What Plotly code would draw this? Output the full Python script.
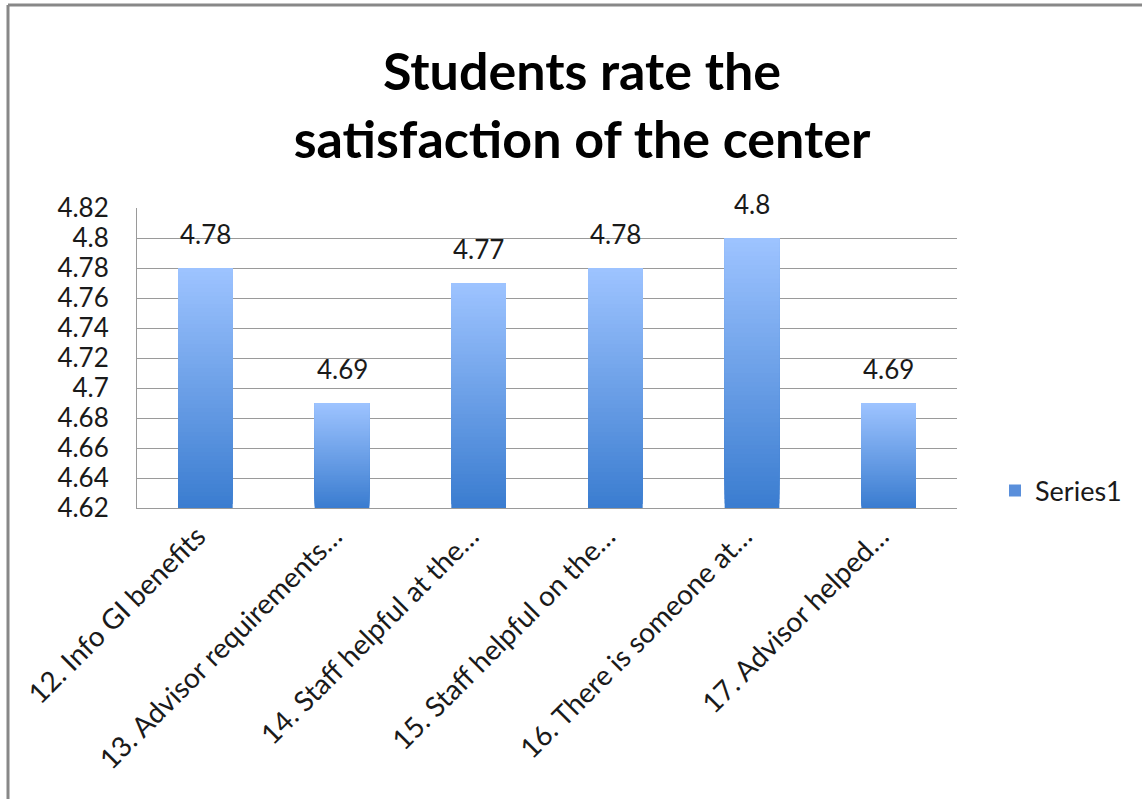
import plotly.graph_objects as go

categories = [
    "12. Info GI benefits",
    "13. Advisor requirements…",
    "14. Staff helpful at the…",
    "15. Staff helpful on the…",
    "16. There is someone at…",
    "17. Advisor helped…",
]
values = [4.78, 4.69, 4.77, 4.78, 4.80, 4.69]
value_labels = ["4.78", "4.69", "4.77", "4.78", "4.8", "4.69"]
y_ticks = [4.62, 4.64, 4.66, 4.68, 4.70, 4.72, 4.74, 4.76, 4.78, 4.80, 4.82]
y_tick_labels = ["4.62", "4.64", "4.66", "4.68", "4.7", "4.72", "4.74", "4.76", "4.78", "4.8", "4.82"]
series_name = "Series1"

y_min, y_max = 4.62, 4.82
FONT = "Lato"

# gradient colours (bottom -> top)
c_bottom = (59, 125, 208)
c_top = (157, 195, 255)
N = 60

fig = go.Figure()
for k in range(N):
    t = k / (N - 1)
    col = tuple(round(c_bottom[i] + (c_top[i] - c_bottom[i]) * t) for i in range(3))
    base = [y_min + (v - y_min) * k / N for v in values]
    seg = [v - b for v, b in zip(values, base)]
    fig.add_trace(go.Bar(
        x=categories, y=seg, base=base,
        marker=dict(color="rgb(%d,%d,%d)" % col, line=dict(width=0)),
        showlegend=False, hoverinfo="skip",
    ))

# legend entry
fig.add_trace(go.Bar(
    x=[categories[0]], y=[0], base=[y_min], name=series_name,
    marker=dict(color="rgb(90,143,219)", line=dict(width=0)),
    showlegend=True, hoverinfo="skip",
))

for c, v, lab in zip(categories, values, value_labels):
    fig.add_annotation(x=c, y=v, text=lab, showarrow=False, yanchor="bottom",
                       yshift=16, font=dict(family=FONT, size=26, color="#1a1a1a"))

fig.update_layout(
    barmode="overlay",
    bargap=0.6,
    width=1142, height=799,
    margin=dict(l=137, r=185, t=208, b=291),
    paper_bgcolor="white", plot_bgcolor="white",
    title=dict(text="<b>Students rate the<br>satisfaction of the center</b>",
               x=582 / 1142, xanchor="center", xref="container",
               y=1 - 90 / 799, yanchor="middle", yref="container",
               font=dict(family=FONT, size=52, color="black")),
    legend=dict(x=995 / 1142, xref="container", y=1 - 491 / 799, yref="container",
                yanchor="middle", xanchor="left",
                font=dict(family=FONT, size=27, color="#1a1a1a"),
                itemwidth=30),
    font=dict(family=FONT),
)
fig.update_xaxes(
    type="category",
    tickangle=-45,
    tickfont=dict(family=FONT, size=28, color="#1a1a1a"),
    showline=True, linecolor="#9a9a9a", linewidth=1,
    showgrid=False, ticks="", ticklabelshift=-8,
)
fig.update_yaxes(
    range=[y_min, y_max],
    tickvals=y_ticks, ticktext=y_tick_labels,
    tickfont=dict(family=FONT, size=26, color="#1a1a1a"),
    showline=True, linecolor="#9a9a9a", linewidth=1,
    showgrid=True, gridcolor="#9a9a9a", gridwidth=1,
    ticks="", ticklabelstandoff=22, zeroline=False,
)
# chart frame (left and top edges)
fig.add_shape(type="line", xref="paper", yref="paper",
              x0=(8 - 137) / 820, x1=(8 - 137) / 820,
              y0=-291 / 300, y1=1 + 203 / 300,
              line=dict(color="#888888", width=3))
fig.add_shape(type="line", xref="paper", yref="paper",
              x0=(8 - 137) / 820, x1=1 + 185 / 820, y0=1 + 203 / 300, y1=1 + 203 / 300,
              line=dict(color="#888888", width=3))

fig.write_html("out.html")
